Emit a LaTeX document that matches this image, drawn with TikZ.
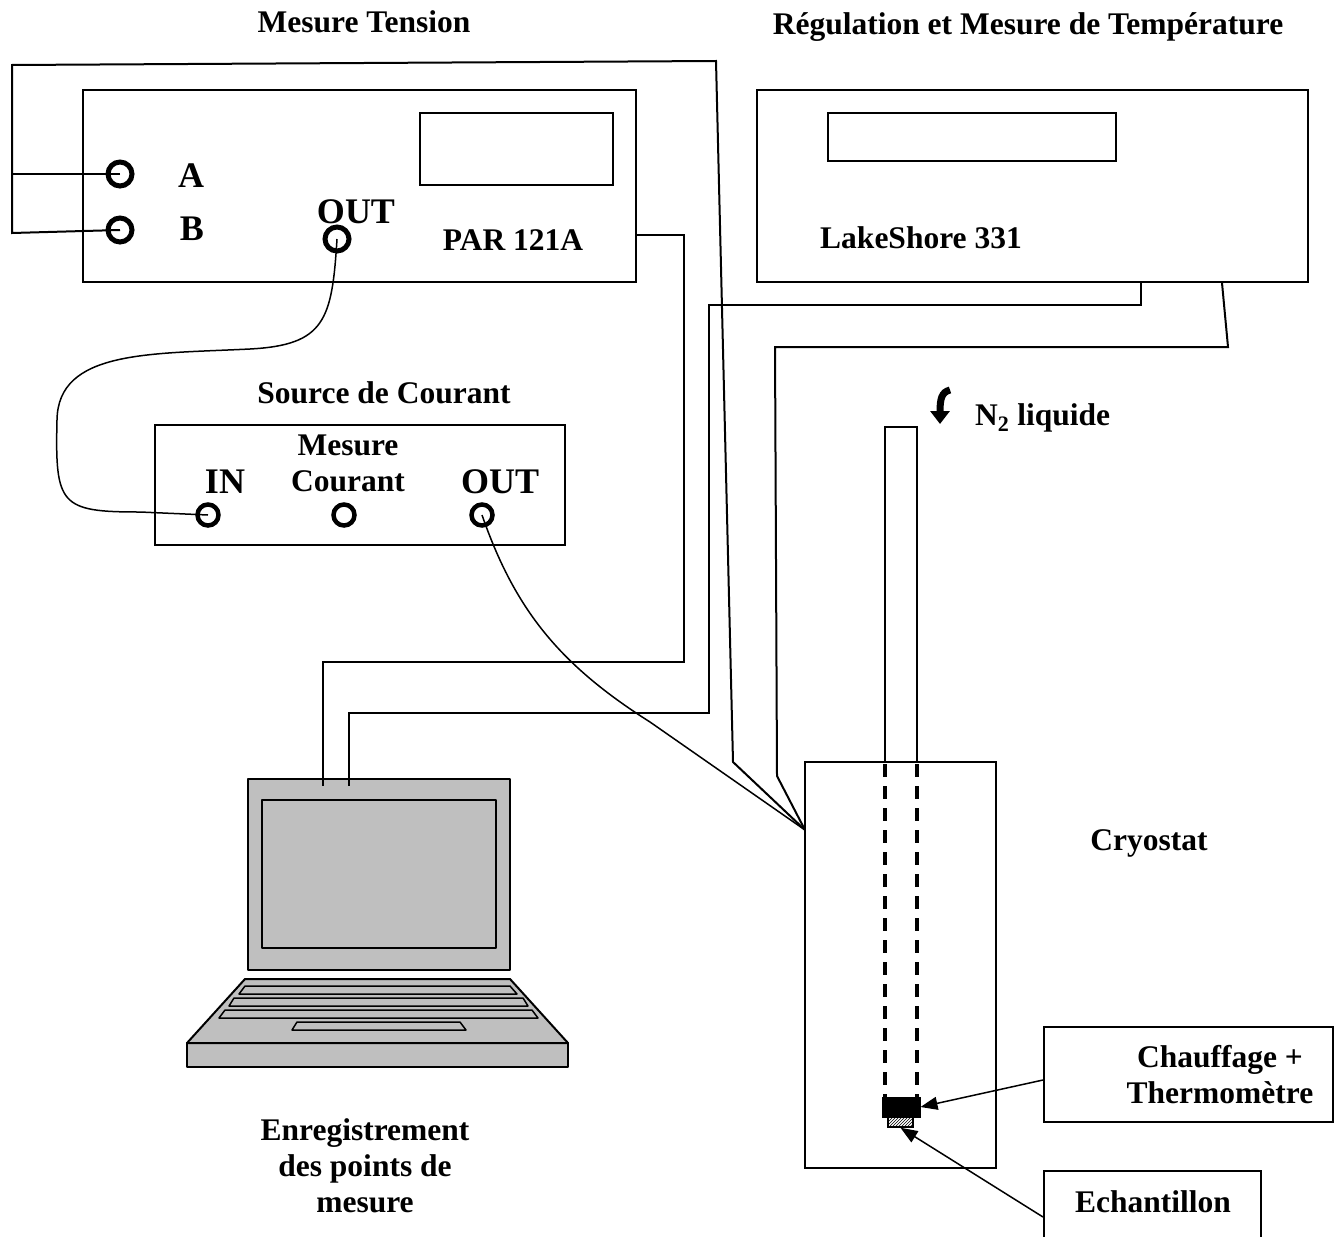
\documentclass[tikz,border=0pt]{standalone}
\usepackage{fontspec}
\setmainfont{Liberation Serif}
\usetikzlibrary{arrows.meta,patterns}
\tikzset{unitbox/.style={
    rectangle,
    draw,
    line width=2pt,
    inner sep=0pt
  },
  jack/.style={circle,draw,line width=5pt,minimum size=24pt,inner sep=0pt},
  smalljack/.style={jack,line width=4.5pt,minimum size=21pt},
  lbl/.style={font=\fontsize{31.5}{36}\selectfont\bfseries,inner sep=0pt,align=center},
  jlbl/.style={font=\fontsize{36}{40}\selectfont\bfseries,inner sep=0pt},
  wire/.style={line width=2pt},
  ptr/.style={line width=1.5pt,-{Triangle[length=17pt,width=13pt]}},
  pcgrey/.style={draw,line width=2pt,fill=black!25,line join=round},
}
\begin{document}
\begin{tikzpicture}[x=1pt,y=-1pt]
  \useasboundingbox (0,0) rectangle (1343,1236);
  \clip (0,0) rectangle (1343,1236);

  % titles
  \node[lbl,anchor=base] (ttens) at (364,33) {Mesure Tension};
  \node[lbl,anchor=base] (ttemp) at (1028,35) {Régulation et Mesure de Température};
  \node[lbl,anchor=base] (tsrc) at (384,403) {Source de Courant};

  % PAR 121A
  \node[unitbox,minimum width=553pt,minimum height=192pt] (par) at (359.5,186) {};
  \node[unitbox,minimum width=193pt,minimum height=72pt] (pardisp) at (516.5,149) {};
  \node[jack] (ja) at (120,174) {};
  \node[jack] (jb) at (120,230) {};
  \node[jack] (parout) at (337,239) {};
  \node[jlbl,anchor=base] (la) at (191,187) {A};
  \node[jlbl,anchor=base] (lb) at (192,240) {B};
  \node[jlbl,anchor=base] (lparout) at (356,223) {OUT};
  \node[lbl,anchor=base] (lpar) at (513,250) {PAR 121A};

  % LakeShore 331
  \node[unitbox,minimum width=551pt,minimum height=192pt] (lks) at (1032.5,186) {};
  \node[unitbox,minimum width=288pt,minimum height=48pt] (lksdisp) at (972,137) {};
  \node[lbl,anchor=base] (llks) at (921,248) {LakeShore 331};

  % source de courant
  \node[unitbox,minimum width=410pt,minimum height=120pt] (src) at (360,485) {};
  \node[smalljack] (in) at (208,515) {};
  \node[smalljack] (imes) at (344,515) {};
  \node[smalljack] (srcout) at (482,515) {};
  \node[jlbl,anchor=base] (lin) at (225,493) {IN};
  \node[jlbl,anchor=base] (lsrcout) at (500,493) {OUT};
  \node[lbl] (limes) at (348,463) {Mesure\\Courant};

  % cryostat
  \node[unitbox,minimum width=191pt,minimum height=406pt] (cryo) at (900.5,965) {};
  \node[unitbox,minimum width=32pt,minimum height=335pt] (tube) at (901,594.5) {};
  \draw[line width=4pt,dash pattern=on 13pt off 9pt] (885,764) -- (885,1097);
  \draw[line width=4pt,dash pattern=on 13pt off 9pt] (917,764) -- (917,1097);
  \node[draw,fill=black,line width=1pt,minimum width=38pt,minimum height=20pt,inner sep=0pt] (heat) at (901,1107) {};
  \node[draw,pattern=north east lines,line width=1.5pt,minimum width=25pt,minimum height=10pt,inner sep=0pt] (ech) at (900.5,1122) {};
  \node[lbl,anchor=base] (lcryo) at (1149,850) {Cryostat};
  \draw[line width=7pt,-{Triangle[length=13pt,width=19pt]}] (950,390) .. controls (942,392) and (940,398) .. (940,424);
  \node[lbl,anchor=base west] (ln2) at (975,425) {N\textsubscript{2} liquide};

  % boxes on the right
  \node[unitbox,minimum width=289pt,minimum height=95pt] (chauf) at (1188.5,1074.5) {};
  \node[lbl] (lchauf) at (1220,1075) {Chauffage +\\Thermomètre};
  \node[unitbox,minimum width=217pt,minimum height=110pt] (echbox) at (1152.5,1226) {};
  \node[lbl,anchor=base] (lech) at (1153,1212) {Echantillon};
  \draw[ptr] (chauf.west |- 0,1080) -- (heat.east);
  \draw[ptr] (echbox.west |- 0,1217) -- (ech.south);

  % laptop
  \draw[pcgrey] (187,1043) rectangle (568,1067);
  \draw[pcgrey] (245,979) -- (510,979) -- (568,1043) -- (187,1043) -- cycle;
  \draw[pcgrey,line width=1.5pt] (245,986) -- (510,986) -- (517,994) -- (239,994) -- cycle;
  \draw[pcgrey,line width=1.5pt] (234,998) -- (523,998) -- (528,1006) -- (229,1006) -- cycle;
  \draw[pcgrey,line width=1.5pt] (225,1010) -- (532,1010) -- (538,1018) -- (219,1018) -- cycle;
  \draw[pcgrey,line width=1.5pt] (297,1022) -- (460,1022) -- (466,1030) -- (292,1030) -- cycle;
  \node[pcgrey,minimum width=262pt,minimum height=191pt,inner sep=0pt] (lid) at (379,874.5) {};
  \node[pcgrey,minimum width=234pt,minimum height=148pt,inner sep=0pt] (screen) at (379,874) {};
  \node[lbl] (lpc) at (365,1166) {Enregistrement\\des points de\\mesure};

  % cables
  \coordinate (lap1) at (323,786);
  \coordinate (lap2) at (349,786);
  \coordinate (cryin) at (805,830);
  \draw[wire] (ja.center) -- (12,174);
  \draw[wire] (jb.center) -- (12,233) -- (12,65) -- (716,61) -- (733,762) -- (cryin);
  \draw[wire] (par.east |- 0,235) -- (684,235) -- (684,662) -- (323,662) -- (lap1);
  \draw[wire] (lks.south -| 1141,0) -- (1141,305) -- (709,305) -- (709,713) -- (349,713) -- (lap2);
  \draw[wire] (lks.south -| 1222,0) -- (1228,347) -- (775,347) -- (777,776) -- (cryin);
  \draw[wire,line width=1.5pt] (parout.center) .. controls (332,320) and (325,345) .. (250,349)
    .. controls (150,354) and (58,350) .. (57,420)
    .. controls (55,505) and (60,512) .. (140,512) -- (in.center);
  \draw[wire,line width=1.5pt] (srcout.center) .. controls (515,610) and (560,665) .. (650,722) -- (cryin);
\end{tikzpicture}
\end{document}
